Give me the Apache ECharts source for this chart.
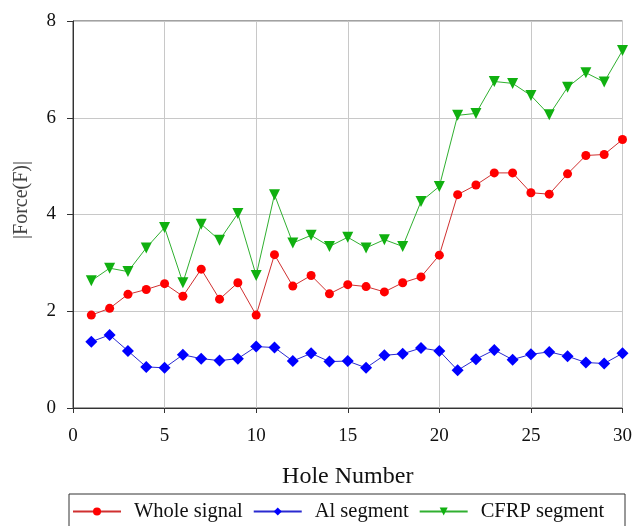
<!DOCTYPE html>
<html>
<head>
<meta charset="utf-8">
<script src="https://cdn.jsdelivr.net/npm/echarts@6/dist/echarts.min.js"></script>
<style>html,body{margin:0;padding:0;background:#fff;}#c{width:635px;height:526px;}</style>
</head>
<body>
<div id="c"></div>
<script>
var holes = [1,2,3,4,5,6,7,8,9,10,11,12,13,14,15,16,17,18,19,20,21,22,23,24,25,26,27,28,29,30];
var wholeSignal = [1.92,2.06,2.35,2.45,2.57,2.31,2.87,2.25,2.59,1.92,3.17,2.52,2.74,2.36,2.55,2.51,2.40,2.59,2.71,3.16,4.41,4.61,4.86,4.86,4.45,4.42,4.84,5.22,5.24,5.55];
var alSegment = [1.37,1.51,1.18,0.85,0.83,1.10,1.02,0.98,1.02,1.27,1.25,0.97,1.13,0.96,0.97,0.83,1.09,1.12,1.24,1.18,0.78,1.01,1.20,1.00,1.11,1.16,1.07,0.94,0.92,1.13];
var cfrpSegment = [2.63,2.89,2.82,3.31,3.73,2.59,3.80,3.47,4.02,2.74,4.41,3.41,3.57,3.34,3.53,3.31,3.48,3.34,4.27,4.58,6.05,6.09,6.75,6.71,6.46,6.06,6.63,6.93,6.74,7.39];
var seriesNames = ['Whole signal','Al segment','CFRP segment'];
var xAxisTitle = 'Hole Number';
var yAxisTitle = '|Force(F)|';

function pairs(arr){ return arr.map(function(v,i){ return [holes[i], v]; }); }

var font = '"Liberation Serif","Times New Roman",serif';
var chart = echarts.init(document.getElementById('c'));
chart.setOption({
  animation: false,
  backgroundColor: '#fff',
  textStyle: {fontFamily: font},
  grid: {left: 73, right: 12, top: 21, bottom: 118, show: true, borderColor: '#444', borderWidth: 1, backgroundColor: 'transparent'},
  graphic: [
    {type: 'rect', shape: {x: 69, y: 494, width: 556, height: 50}, style: {fill: 'none', stroke: '#333', lineWidth: 1}},
    {type: 'text', x: 22, y: 200, rotation: Math.PI / 2,
     style: {text: yAxisTitle, fontFamily: font, fontSize: 20, fill: '#444', align: 'center', verticalAlign: 'middle'}}
  ],
  legend: {
    data: seriesNames,
    top: 501,
    left: 72,
    padding: 0,
    itemWidth: 48,
    itemHeight: 10,
    itemGap: 10,
    textStyle: {fontFamily: font, fontSize: 20.5, color: '#111', padding: [0, 0, 0, 8]}
  },
  xAxis: {
    type: 'value', min: 0, max: 30, interval: 5,
    name: xAxisTitle, nameLocation: 'middle', nameGap: 57,
    nameTextStyle: {fontFamily: font, fontSize: 24, color: '#111'},
    axisLine: {show: true, lineStyle: {color: '#333', width: 1}},
    axisTick: {show: true, inside: false, length: 5, lineStyle: {color: '#333'}},
    axisLabel: {margin: 19, fontFamily: font, fontSize: 19, color: '#111'},
    splitLine: {show: true, lineStyle: {color: '#c8c8c8', width: 1}}
  },
  yAxis: {
    type: 'value', min: 0, max: 8, interval: 2,
    axisLine: {show: true, lineStyle: {color: '#333', width: 1}},
    axisTick: {show: true, inside: false, length: 6, lineStyle: {color: '#333'}},
    axisLabel: {margin: 17, fontFamily: font, fontSize: 19, color: '#111'},
    splitLine: {show: true, lineStyle: {color: '#c8c8c8', width: 1}}
  },
  series: [
    {name: seriesNames[0], type: 'line', data: pairs(wholeSignal), symbol: 'circle', symbolSize: 9,
     lineStyle: {color: '#d03030', width: 1}, itemStyle: {color: '#ff0000'}},
    {name: seriesNames[1], type: 'line', data: pairs(alSegment), symbol: 'diamond', symbolSize: 12,
     lineStyle: {color: '#2a2ad0', width: 1}, itemStyle: {color: '#0000ff'}},
    {name: seriesNames[2], type: 'line', data: pairs(cfrpSegment), symbol: 'triangle', symbolRotate: 180, symbolSize: 11,
     lineStyle: {color: '#30b030', width: 1}, itemStyle: {color: '#10b010'}}
  ]
});
</script>
</body>
</html>
